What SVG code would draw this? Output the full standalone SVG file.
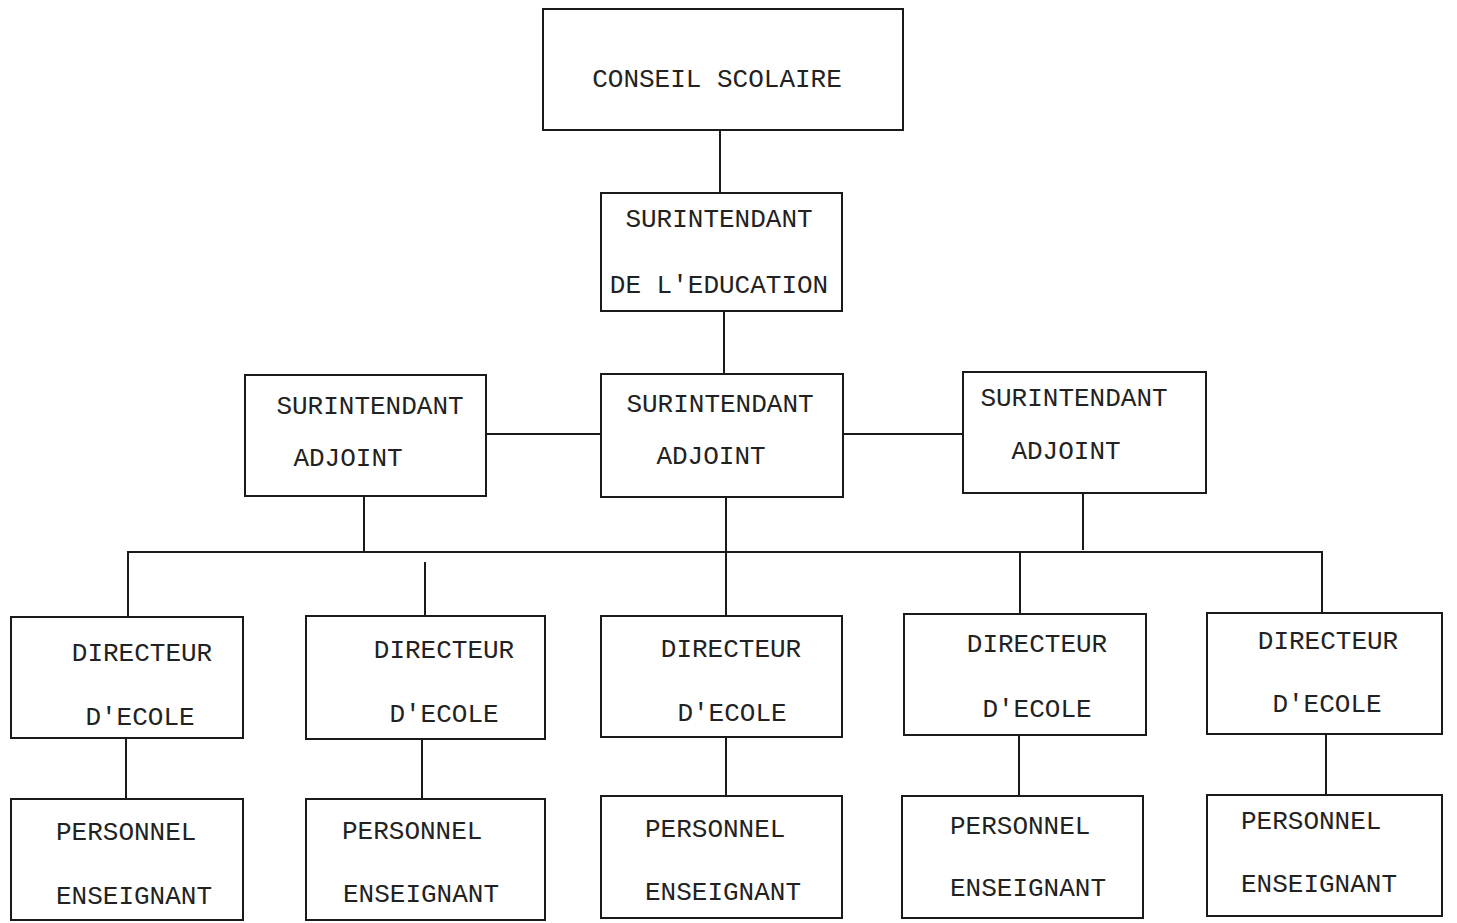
<svg xmlns="http://www.w3.org/2000/svg" width="1457" height="923" viewBox="0 0 1457 923">
<style>
.box{fill:#fff;stroke:#1a1a1a;stroke-width:2}
.ln{fill:none;stroke:#1a1a1a;stroke-width:2}
text{font-family:"Liberation Mono","DejaVu Sans Mono",monospace;font-size:26px;fill:#222}
.m{text-anchor:middle}
</style>
<rect width="1457" height="923" fill="#fff"/>
<g id="connectors">
<path class="ln" d="M720 130V193"/>
<path class="ln" d="M724 311V374"/>
<path class="ln" d="M486 434H601"/>
<path class="ln" d="M843 434H963"/>
<path class="ln" d="M364 496V552"/>
<path class="ln" d="M726 497V616"/>
<path class="ln" d="M1083 493V550"/>
<path class="ln" d="M128 617V552H1322V613"/>
<path class="ln" d="M425 562V616"/>
<path class="ln" d="M1020 552V614"/>
<path class="ln" d="M126 738V799"/>
<path class="ln" d="M422 739V799"/>
<path class="ln" d="M726 737V796"/>
<path class="ln" d="M1019 735V796"/>
<path class="ln" d="M1326 734V795"/>
</g>
<g id="conseil"><rect class="box" x="543" y="9" width="360" height="121"/><text class="m" x="717" y="87">CONSEIL SCOLAIRE</text></g>
<g id="surintendant-education"><rect class="box" x="601" y="193" width="241" height="118"/><text class="m" x="719" y="227">SURINTENDANT</text><text class="m" x="719" y="293">DE L'EDUCATION</text></g>
<g id="adjoint-left"><rect class="box" x="245" y="375" width="241" height="121"/><text class="m" x="370" y="414">SURINTENDANT</text><text class="m" x="348" y="466">ADJOINT</text></g>
<g id="adjoint-center"><rect class="box" x="601" y="374" width="242" height="123"/><text class="m" x="720" y="412">SURINTENDANT</text><text class="m" x="711" y="464">ADJOINT</text></g>
<g id="adjoint-right"><rect class="box" x="963" y="372" width="243" height="121"/><text class="m" x="1074" y="406">SURINTENDANT</text><text class="m" x="1066" y="459">ADJOINT</text></g>
<g id="directeur-1"><rect class="box" x="11" y="617" width="232" height="121"/><text class="m" x="142" y="661">DIRECTEUR</text><text class="m" x="140" y="725">D'ECOLE</text></g>
<g id="directeur-2"><rect class="box" x="306" y="616" width="239" height="123"/><text class="m" x="444" y="658">DIRECTEUR</text><text class="m" x="444" y="722">D'ECOLE</text></g>
<g id="directeur-3"><rect class="box" x="601" y="616" width="241" height="121"/><text class="m" x="731" y="657">DIRECTEUR</text><text class="m" x="732" y="721">D'ECOLE</text></g>
<g id="directeur-4"><rect class="box" x="904" y="614" width="242" height="121"/><text class="m" x="1037" y="652">DIRECTEUR</text><text class="m" x="1037" y="717">D'ECOLE</text></g>
<g id="directeur-5"><rect class="box" x="1207" y="613" width="235" height="121"/><text class="m" x="1328" y="649">DIRECTEUR</text><text class="m" x="1327" y="712">D'ECOLE</text></g>
<g id="personnel-1"><rect class="box" x="11" y="799" width="232" height="121"/><text x="56" y="840">PERSONNEL</text><text x="56" y="904">ENSEIGNANT</text></g>
<g id="personnel-2"><rect class="box" x="306" y="799" width="239" height="121"/><text x="342" y="839">PERSONNEL</text><text x="343" y="902">ENSEIGNANT</text></g>
<g id="personnel-3"><rect class="box" x="601" y="796" width="241" height="122"/><text x="645" y="837">PERSONNEL</text><text x="645" y="900">ENSEIGNANT</text></g>
<g id="personnel-4"><rect class="box" x="902" y="796" width="241" height="122"/><text x="950" y="834">PERSONNEL</text><text x="950" y="896">ENSEIGNANT</text></g>
<g id="personnel-5"><rect class="box" x="1207" y="795" width="235" height="121"/><text x="1241" y="829">PERSONNEL</text><text x="1241" y="892">ENSEIGNANT</text></g>
</svg>
